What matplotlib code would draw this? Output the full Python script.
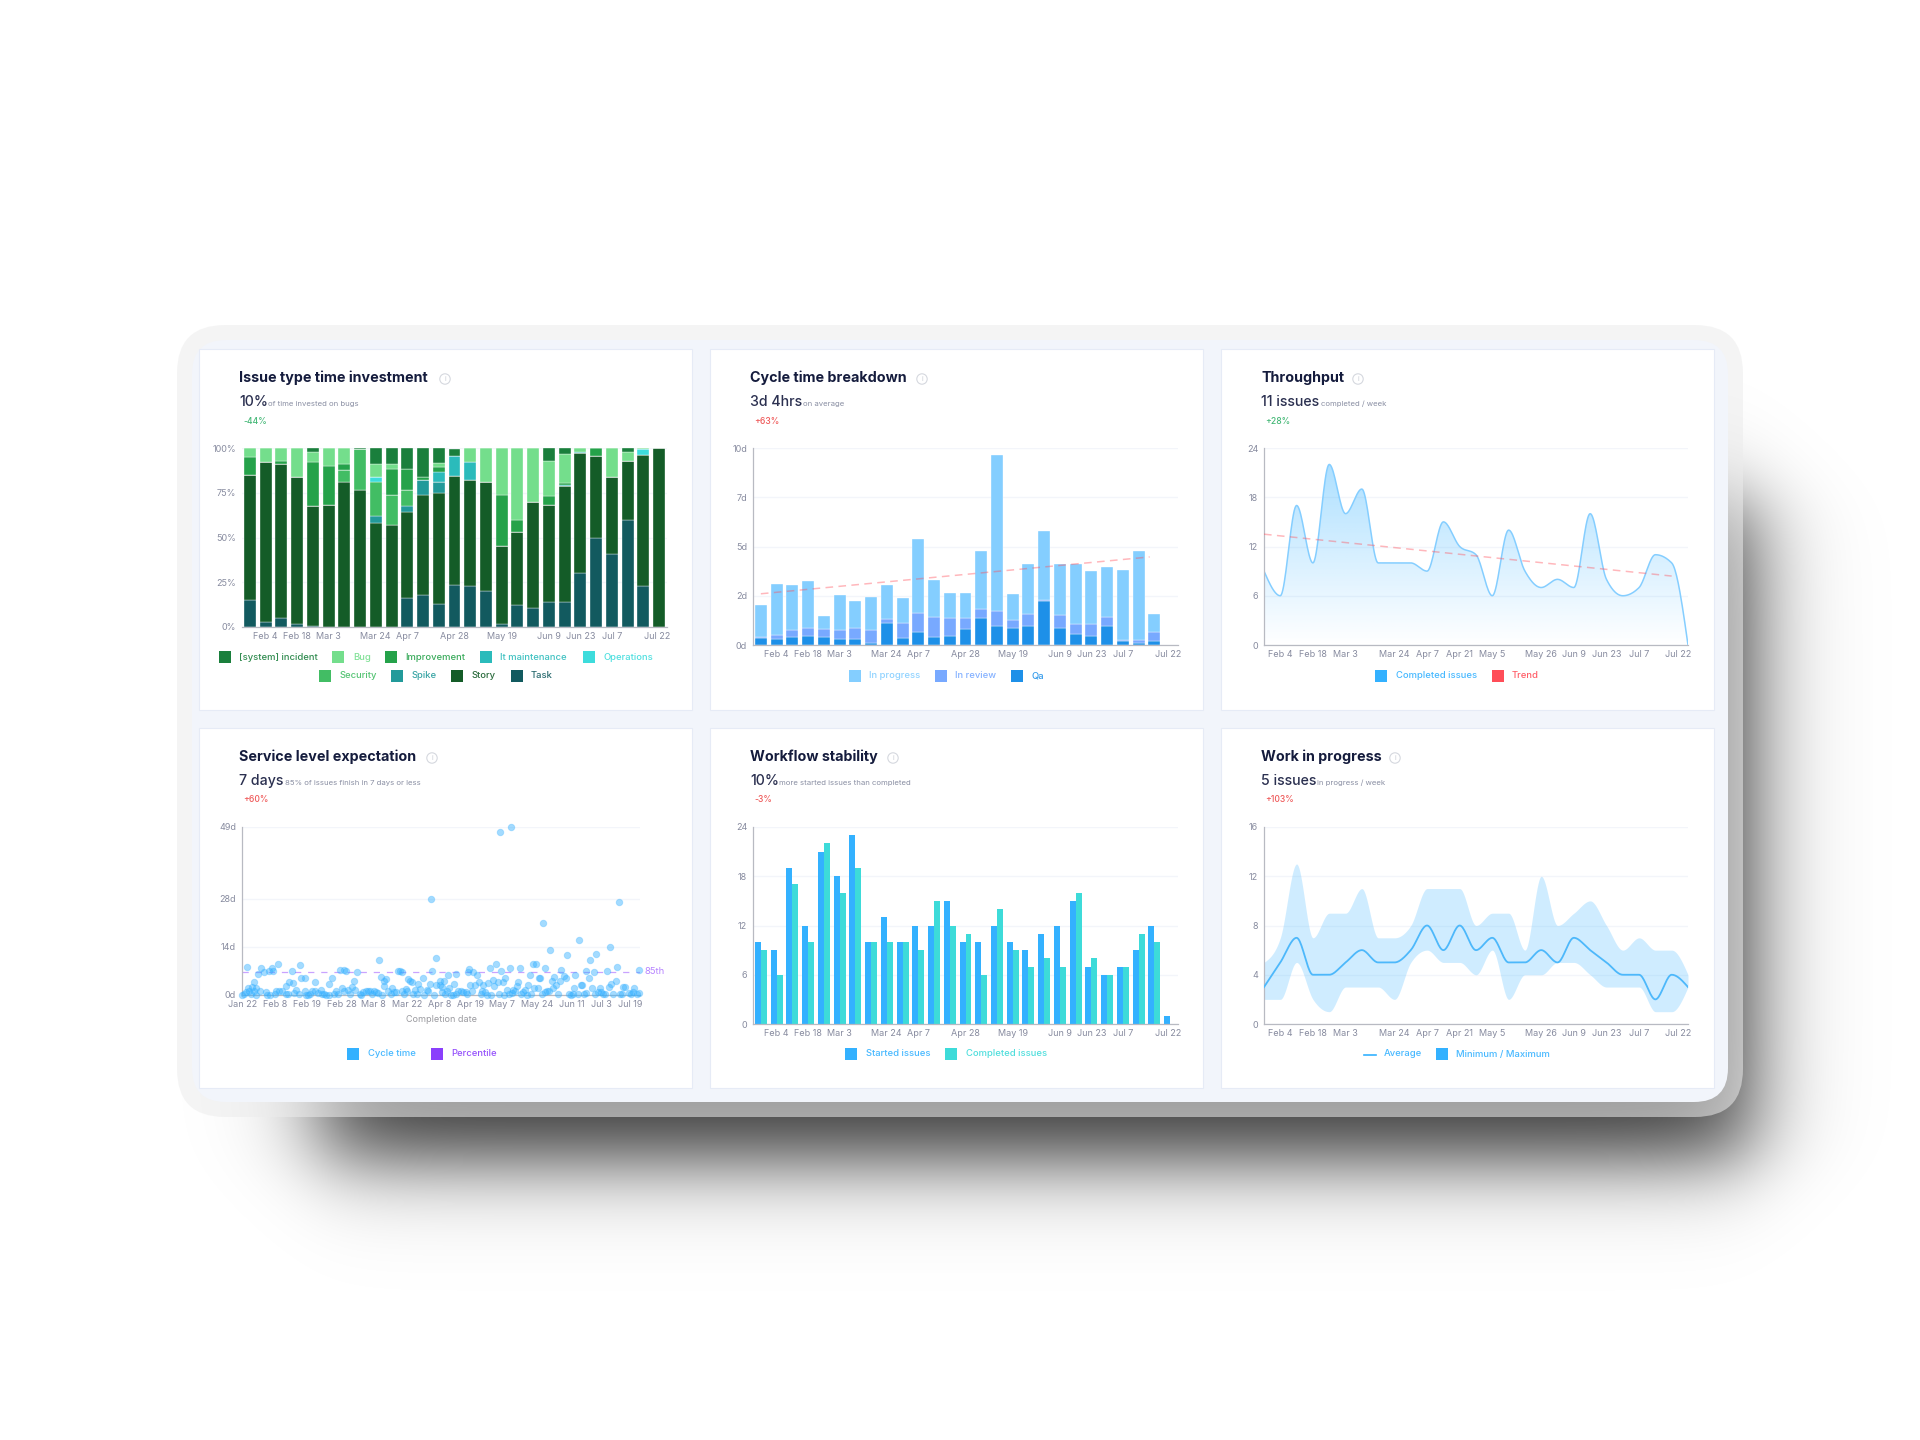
import matplotlib

matplotlib.use("Agg")
import matplotlib.pyplot as plt
import numpy as np
from matplotlib.patches import Circle, FancyBboxPatch, Rectangle

W, H = 1920, 1440

plt.rcParams["font.family"] = ["Inter", "DejaVu Sans"]

TICK_COLOR = "#878b9f"
TITLE_COLOR = "#151c3d"
VALUE_COLOR = "#2b3050"
SUB_COLOR = "#8a8fa3"
GREEN = "#45b877"
RED = "#ef5a5a"
GRID_COLOR = "#f3f5fa"
AXIS_COLOR = "#b8bac2"

WEEK_LABELS = ["Feb 4", "Feb 18", "Mar 3", "Mar 24", "Apr 7", "Apr 28", "May 19",
               "Jun 9", "Jun 23", "Jul 7", "Jul 22"]
WEEK_TICKS = [1, 3, 5, 8, 10, 13, 16, 19, 21, 23, 25.85]
POINT_LABELS = ["Feb 4", "Feb 18", "Mar 3", "Mar 24", "Apr 7", "Apr 21", "May 5",
                "May 26", "Jun 9", "Jun 23", "Jul 7", "Jul 22"]
POINT_TICKS = [1, 3, 5, 8, 10, 12, 14, 17, 19, 21, 23, 25.4]

# issue type time investment, percent per week
INV_NAMES = ["Task", "Story", "Spike", "Security", "Operations", "It maintenance",
             "Improvement", "Bug", "[system] incident"]
INV_COLORS = ["#125a5f", "#145c28", "#229a9a", "#42bd64", "#3ddcdc", "#2bbbbb",
              "#25a24a", "#74de8c", "#1a7f3c"]
inv_task = [15, 3, 5, 1.5, 0.5, 0, 0, 0, 0, 0, 16, 18, 13, 23.5, 23, 20, 1.5, 12.5, 10.5,
            14, 14, 30, 50, 41, 60, 23, 0]
inv_story = [70, 89, 86, 82.5, 67, 68, 81, 76.5, 58, 57, 48.5, 56, 62, 61, 59, 61, 43.5,
             40.5, 59.5, 54, 64.5, 67, 45.5, 43, 33, 73, 100]
inv_spike = [0, 0, 0, 0, 0, 0, 0, 0, 4, 0, 3, 8, 6, 0, 0, 0, 0, 0, 0, 0, 0, 0, 0, 0, 0, 0, 0]
inv_security = [0, 0, 0, 0, 0, 0, 6.5, 23, 19, 17, 9, 0, 0, 0, 0, 0, 0, 0, 0, 0, 0, 0, 0,
                0, 0, 0, 0]
inv_operations = [0, 0, 0, 0, 0, 0, 0, 0, 3, 0, 0, 0, 0, 0, 0, 0, 0, 0, 0, 0, 0, 0, 0, 0,
                  0, 3.5, 0]
inv_maintenance = [0, 0, 0, 0, 0, 0, 0, 0, 0, 0, 0, 0, 5.5, 11, 10, 0, 0, 0, 0, 0, 1, 1,
                   0, 0, 0, 0, 0]
inv_improvement = [10, 0, 2, 0, 24.5, 22, 3.5, 0, 0, 14, 12, 2, 3, 0, 0, 0, 29, 6.5, 0, 5,
                   1, 0, 4.5, 0, 0, 0, 0]
inv_bug = [5, 8, 7, 16, 5.5, 10, 9, 0, 7, 3, 0, 0, 2, 0, 8, 19, 26, 40.5, 30, 20, 16, 2,
           0, 16, 5, 0.5, 0]
inv_incident = [0, 0, 0, 0, 2.5, 0, 0, 0.5, 9, 9, 11.5, 16, 8.5, 4, 0, 0, 0, 0, 0, 7, 3.5,
                0, 0, 0, 2, 0, 0]
INV_SERIES = [inv_task, inv_story, inv_spike, inv_security, inv_operations,
              inv_maintenance, inv_improvement, inv_bug, inv_incident]

# cycle time breakdown, days per week
cycle_qa = [0.34, 0.29, 0.39, 0.44, 0.39, 0.30, 0.29, 0.12, 1.10, 0.34, 0.64, 0.39, 0.47,
            0.83, 1.39, 0.98, 0.86, 0.98, 2.23, 0.88, 0.58, 0.47, 0.98, 0.22, 0.10, 0.22]
cycle_review = [0.05, 0.24, 0.39, 0.41, 0.44, 0.47, 0.59, 0.63, 0.24, 0.80, 1.00, 1.02,
                0.91, 0.52, 0.46, 0.76, 0.42, 0.58, 0.07, 0.66, 0.51, 0.61, 0.44, 0.05,
                0.14, 0.42]
cycle_progress = [1.66, 2.57, 2.28, 2.42, 0.64, 1.76, 1.35, 1.71, 1.73, 1.27, 3.74, 1.91,
                  1.27, 1.30, 2.93, 7.92, 1.30, 2.55, 3.47, 2.59, 3.03, 2.67, 2.55, 3.55,
                  4.53, 0.93]
cycle_trend_x = [0, 24.7]
cycle_trend_y = [2.6, 4.47]

# throughput and workflow stability, issues per week
completed = [9, 6, 17, 10, 22, 16, 19, 10, 10, 10, 9, 15, 12, 11, 6, 14, 9, 7, 8, 7, 16, 8,
             6, 7, 11, 10, 0]
started = [10, 9, 19, 12, 21, 18, 23, 10, 13, 10, 12, 12, 15, 10, 10, 12, 10, 9, 11, 12,
           15, 7, 6, 7, 9, 12, 1]
throughput_trend_x = [0, 25]
throughput_trend_y = [13.5, 8.4]

# work in progress, issues per week
wip_avg = [3, 5, 7, 4, 4, 5, 6, 5, 5, 6, 8, 6, 8, 6, 7, 5, 5, 6, 5, 7, 6, 5, 4, 4, 2, 4, 3]
wip_max = [5, 7, 13, 7, 9, 9, 11, 7, 7, 8, 11, 11, 11, 8, 9, 9, 6, 12, 8, 9, 10, 8, 6, 7,
           6, 6, 4]
wip_min = [2, 2, 5, 2, 1, 3, 3, 3, 2, 5, 6, 5, 5, 4, 6, 2, 4, 4, 5, 5, 4, 3, 3, 3, 1, 1, 3]

# service level expectation: position on the completion axis, cycle time in days
SLE_LABELS = ["Jan 22", "Feb 8", "Feb 19", "Feb 28", "Mar 8", "Mar 22", "Apr 8", "Apr 19",
              "May 7", "May 24", "Jun 11", "Jul 3", "Jul 19"]
SLE_TICKS = [1, 98, 194, 299, 395, 495, 592, 685, 780, 885, 990, 1077, 1164]
SLE_SPAN = 1193
sle_pos = [15, 36, 47, 57, 65, 80, 90, 94, 107, 19, 31, 43, 149, 174, 140, 153, 133, 178,
           190, 219, 261, 271, 294, 307, 312, 345, 337, 412, 416, 433, 425, 427, 449, 468,
           473, 479, 499, 505, 511, 529, 542, 567, 571, 583, 563, 581, 593, 595, 605, 599,
           617, 635, 642, 621, 676, 681, 693, 705, 710, 683, 698, 723, 743, 760, 777, 773,
           806, 751, 738, 756, 768, 781, 789, 803, 832, 827, 823, 813, 864, 873, 881, 907,
           889, 893, 856, 903, 923, 928, 936, 941, 931, 957, 953, 965, 970, 974, 999, 1011,
           1015, 1020, 995, 1032, 1041, 1044, 1055, 1061, 1049, 1095, 1103, 1106, 1120,
           1125, 1129, 1100, 1143, 1148, 1191, 1176, 1073,
           1, 6, 13, 27, 41, 21, 37, 55, 72, 75, 83, 98, 101, 111, 121, 131, 139, 155, 163,
           170, 188, 193, 199, 205, 210, 218, 227, 236, 241, 247, 253, 260, 277, 281, 289,
           301, 305, 317, 324, 331, 338, 353, 357, 363, 371, 378, 384, 390, 395, 403, 409,
           421, 438, 446, 455, 463, 481, 487, 492, 496, 513, 519, 525, 535, 546, 555, 559,
           576, 600, 608, 615, 626, 633, 640, 648, 655, 663, 670, 675, 689, 716, 719, 729,
           733, 747, 769, 785, 795, 799, 809, 818, 835, 841, 848, 853, 865, 876, 887, 898,
           909, 915, 921, 947, 979, 985, 991, 1007, 1025, 1031, 1059, 1068, 1075, 1083,
           1087, 1113, 1133, 1139, 1159, 1165, 1173, 1183, 1189]
sle_days = [8.1, 3.9, 6.0, 7.9, 6.6, 6.9, 7.9, 7.0, 9.1, 2.1, 2.3, 1.9, 7.1, 8.7, 3.8, 3.6,
            2.5, 4.9, 4.9, 3.7, 3.2, 4.9, 7.3, 7.2, 7.0, 6.8, 4.2, 10.2, 5.2, 4.8, 4.1, 2.7,
            2.1, 7.1, 7.0, 6.6, 4.8, 4.1, 3.8, 3.2, 5.1, 28.1, 6.9, 10.7, 3.1, 2.9, 4.0, 2.8,
            4.0, 2.3, 5.9, 3.1, 6.0, 2.0, 6.7, 7.6, 6.7, 5.9, 3.7, 3.0, 2.8, 3.0, 7.8, 8.9,
            7.0, 47.6, 49.1, 4.4, 3.4, 2.7, 3.8, 3.9, 5.0, 8.0, 7.8, 3.8, 2.6, 1.5, 5.9, 9.1,
            8.9, 7.9, 4.9, 4.9, 2.8, 21.1, 13.0, 4.1, 5.2, 3.0, 2.1, 7.2, 4.1, 5.6, 5.0, 11.7,
            5.8, 16.0, 3.0, 3.0, 1.9, 7.1, 5.0, 10.1, 6.8, 12.0, 2.0, 6.9, 14.1, 3.1, 4.1,
            8.1, 27.0, 2.2, 2.4, 2.3, 7.2, 2.0, 2.1,
            0.0, 0.2, 0.9, 0.2, 0.1, 1.2, 1.1, 1.2, 1.0, 0.1, 0.0, 0.4, 1.2, 1.3, 1.2, 0.4,
            0.2, 0.7, 1.4, 0.4, 1.2, 0.1, 0.0, 0.3, 1.2, 1.2, 0.6, 1.5, 0.2, 0.2, 0.1, 0.0,
            0.2, 1.1, 0.2, 1.9, 1.2, 1.4, 0.2, 2.3, 1.4, 0.2, 0.0, 1.0, 1.3, 1.2, 1.3, 0.2,
            1.3, 1.0, 0.6, 0.0, 1.2, 0.4, 0.8, 0.9, 1.2, 0.2, 1.8, 1.2, 0.2, 1.4, 0.2, 1.8,
            0.1, 1.6, 1.1, 0.1, 0.9, 0.2, 1.2, 0.0, 0.1, 0.4, 1.2, 1.2, 1.0, 0.8, 0.2, 1.2,
            0.2, 1.2, 0.9, 0.0, 0.1, 0.2, 0.0, 1.4, 0.2, 0.6, 1.2, 0.2, 0.9, 1.4, 0.1, 0.2,
            1.9, 1.9, 0.4, 0.9, 1.2, 1.2, 0.2, 0.4, 0.0, 0.2, 0.4, 0.2, 0.6, 0.2, 1.0, 0.9,
            0.2, 0.4, 0.2, 0.2, 0.4, 0.6, 0.2, 0.9, 0.2, 0.7]
sle_percentile = 6.75


def monotone_curve(x, y, samples=20):
    """Monotone cubic through the weekly values, same shape as a d3 monotoneX line."""
    x = np.asarray(x, dtype=float)
    y = np.asarray(y, dtype=float)
    h = np.diff(x)
    s = np.diff(y) / h
    t = np.zeros(len(x))
    for i in range(1, len(x) - 1):
        p = (s[i - 1] * h[i] + s[i] * h[i - 1]) / (h[i - 1] + h[i])
        t[i] = (np.sign(s[i - 1]) + np.sign(s[i])) * min(abs(s[i - 1]), abs(s[i]), 0.5 * abs(p))
    t[0] = (3 * s[0] - t[1]) / 2
    t[-1] = (3 * s[-1] - t[-2]) / 2

    xs, ys = [], []
    for i in range(len(x) - 1):
        u = np.linspace(0, 1, samples, endpoint=False)
        xs.append(x[i] + u * h[i])
        ys.append((2 * u**3 - 3 * u**2 + 1) * y[i] + (u**3 - 2 * u**2 + u) * h[i] * t[i]
                  + (-2 * u**3 + 3 * u**2) * y[i + 1] + (u**3 - u**2) * h[i] * t[i + 1])
    xs.append(x[-1:])
    ys.append(y[-1:])
    return np.concatenate(xs), np.concatenate(ys)


def norm_cdf(v):
    # logistic stand-in for the gaussian edge, no scipy here
    return 1 / (1 + np.exp(-1.7 * v))


def draw_backdrop(bg):
    px, py = np.meshgrid(np.arange(W) + 0.5, np.arange(H) + 0.5)
    sx, sy = 45, 42
    alpha = (0.78 * norm_cdf((px - 320) / sx) * norm_cdf((1752 - px) / sx)
             * norm_cdf((py - 500) / sy) * norm_cdf((1160 - py) / sy))
    shadow = np.zeros((H, W, 4))
    shadow[..., 3] = alpha
    bg.imshow(shadow, extent=[0, W, H, 0], aspect="auto", zorder=0, interpolation="bilinear")

    ring = FancyBboxPatch((177, 325), 1566, 792, boxstyle="round,pad=0,rounding_size=48",
                          fc=(0.925, 0.925, 0.925, 0.55), ec="none", zorder=1)
    bg.add_patch(ring)
    panel = FancyBboxPatch((192, 340), 1536, 762, boxstyle="round,pad=0,rounding_size=34",
                           fc="#f2f5fb", ec="none", zorder=2)
    bg.add_patch(panel)


def draw_card(bg, left, top, title, value, sub, sub_x, delta, delta_color, info_x):
    width, height = 493, 361 if top < 500 else 360
    bg.add_patch(Rectangle((left, top), width, height, fc="white", ec="#e6ebf6", lw=0.8, zorder=3))
    text_x = left + 40
    bg.text(text_x, top + 29, title, fontsize=10.3, fontweight="bold", color=TITLE_COLOR,
            va="center", zorder=5)
    bg.text(text_x, top + 53, value, fontsize=10.2, fontweight="medium", color=VALUE_COLOR,
            va="center", zorder=5)
    bg.text(sub_x, top + 55, sub, fontsize=5.6, color=SUB_COLOR, va="center", zorder=5)
    bg.text(text_x + 4, top + 72, delta, fontsize=6.2, fontweight="medium", color=delta_color,
            va="center", zorder=5)
    bg.add_patch(Circle((info_x, top + 30), 5.2, fc="white", ec="#d5d8df", lw=0.8, zorder=5))
    bg.text(info_x, top + 30, "i", fontsize=5, color="#c8ccd4", ha="center", va="center", zorder=6)


def draw_legend(bg, y, swatches, labels, colors, line_first=False):
    for i, (sw, tx) in enumerate(zip(swatches, [s[1] for s in labels])):
        if line_first and i == 0:
            bg.plot([sw, sw + 12], [y + 1, y + 1], color=colors[i], lw=1.2, zorder=5)
        else:
            bg.add_patch(Rectangle((sw, y - 6), 12, 12, fc=colors[i], ec="none", zorder=5))
        bg.text(tx, y, labels[i][0], fontsize=6.8, color=colors[i], va="center", zorder=5,
                fontweight="medium", alpha=0.9)


def chart_axes(fig, left, top, right, bottom, yticks, ylabels, xticks, xlabels, show_left=True):
    ax = fig.add_axes([left / W, 1 - bottom / H, (right - left) / W, (bottom - top) / H])
    ax.patch.set_alpha(0)
    for name in ("top", "right"):
        ax.spines[name].set_visible(False)
    ax.spines["bottom"].set_color(AXIS_COLOR)
    ax.spines["bottom"].set_linewidth(0.9)
    ax.spines["left"].set_color(AXIS_COLOR)
    ax.spines["left"].set_linewidth(0.9)
    ax.spines["left"].set_visible(show_left)
    ax.set_yticks(yticks, ylabels)
    ax.set_xticks(xticks, xlabels)
    ax.tick_params(length=0, labelsize=6.5, labelcolor=TICK_COLOR)
    ax.tick_params(axis="x", pad=3.6)
    ax.tick_params(axis="y", pad=4.2)
    ax.grid(axis="y", color=GRID_COLOR, lw=1.0)
    ax.set_axisbelow(True)
    return ax


fig = plt.figure(figsize=(W / 100, H / 100), dpi=100, facecolor="white")
bg = fig.add_axes([0, 0, 1, 1], zorder=0)
bg.axis("off")
draw_backdrop(bg)
bg.set_xlim(0, W)
bg.set_ylim(H, 0)

draw_card(bg, 199, 349, "Issue type time investment", "10%", "of time invested on bugs", 268,
          "-44%", GREEN, 445)
draw_card(bg, 710, 349, "Cycle time breakdown", "3d 4hrs", "on average", 803, "+63%", RED, 922)
draw_card(bg, 1221, 349, "Throughput", "11 issues", "completed / week", 1321, "+28%", GREEN, 1358)
draw_card(bg, 199, 728, "Service level expectation", "7 days",
          "85% of issues finish in 7 days or less", 285, "+60%", RED, 432)
draw_card(bg, 710, 728, "Workflow stability", "10%", "more started issues than completed", 779,
          "-3%", RED, 893)
draw_card(bg, 1221, 728, "Work in progress", "5 issues", "in progress / week", 1317, "+103%", RED,
          1395)

# stacked investment bars
ax1 = chart_axes(fig, 242, 448, 667, 627, [0, 25, 50, 75, 100],
                 ["0%", "25%", "50%", "75%", "100%"], WEEK_TICKS, WEEK_LABELS, show_left=False)
weeks = np.arange(27)
base = np.zeros(27)
for values, color in zip(INV_SERIES, INV_COLORS):
    ax1.bar(weeks, values, bottom=base, width=0.76, color=color, edgecolor="white", linewidth=0.25)
    base += np.array(values)
ax1.set_xlim(-0.5, 26.5)
ax1.set_ylim(0, 100)

legend_names = dict(zip(INV_NAMES, INV_COLORS))
row_one = ["[system] incident", "Bug", "Improvement", "It maintenance", "Operations"]
row_two = ["Security", "Spike", "Story", "Task"]
draw_legend(bg, 657, [219, 332, 385, 480, 583],
            [(n, x) for n, x in zip(row_one, [239, 353, 405, 500, 603])],
            [legend_names[n] for n in row_one])
draw_legend(bg, 676, [319, 391, 451, 511],
            [(n, x) for n, x in zip(row_two, [339, 412, 472, 531])],
            [legend_names[n] for n in row_two])

# cycle time bars with trend
ax2 = chart_axes(fig, 753, 448, 1178, 645, [0, 2.5, 5, 7.5, 10],
                 ["0d", "2d", "5d", "7d", "10d"], WEEK_TICKS, WEEK_LABELS)
weeks = np.arange(26)
qa = np.array(cycle_qa)
review = np.array(cycle_review)
ax2.bar(weeks, qa, width=0.76, color="#1e90e8", edgecolor="white", linewidth=0.25)
ax2.bar(weeks, review, bottom=qa, width=0.76, color="#78a9ff", edgecolor="white", linewidth=0.25)
ax2.bar(weeks, cycle_progress, bottom=qa + review, width=0.76, color="#84ceff",
        edgecolor="white", linewidth=0.25)
ax2.plot(cycle_trend_x, cycle_trend_y, color="#ff4d58", alpha=0.4, lw=1.1, dashes=(5, 3.5))
ax2.set_xlim(-0.5, 26.5)
ax2.set_ylim(0, 10)
draw_legend(bg, 676, [849, 935, 1011], [("In progress", 869), ("In review", 955), ("Qa", 1031)],
            ["#84ceff", "#78a9ff", "#1e90e8"])

# throughput area with gradient fill
ax3 = chart_axes(fig, 1264, 448, 1688, 645, [0, 6, 12, 18, 24], ["0", "6", "12", "18", "24"],
                 POINT_TICKS, POINT_LABELS)
ax3.set_xlim(0, 26)
ax3.set_ylim(0, 24)
cx, cy = monotone_curve(np.arange(27), completed)
gradient = np.zeros((256, 2, 4))
gradient[..., :3] = matplotlib.colors.to_rgb("#33b1ff")
gradient[..., 3] = np.linspace(0.4, 0, 256)[:, None]
area = ax3.fill_between(cx, cy, 0, color="none")
img = ax3.imshow(gradient, extent=[0, 26, 0, max(completed)], aspect="auto", zorder=1,
                 interpolation="bilinear")
img.set_clip_path(area.get_paths()[0], ax3.transData)
ax3.plot(cx, cy, color="#85ceff", lw=1.1, zorder=2)
ax3.plot(throughput_trend_x, throughput_trend_y, color="#ff4d58", alpha=0.4, lw=1.1,
         dashes=(5, 3.5), zorder=3)
ax3.set_xlim(0, 26)
ax3.set_ylim(0, 24)
draw_legend(bg, 676, [1375, 1492], [("Completed issues", 1396), ("Trend", 1512)],
            ["#33b1ff", "#ff4d58"])

# cycle time scatter with percentile line
ax4 = chart_axes(fig, 242, 827, 640, 995, [0, 14, 28, 49], ["0d", "14d", "28d", "49d"],
                 SLE_TICKS, SLE_LABELS)
ax4.axhline(sle_percentile, color="#b784ff", alpha=0.75, lw=0.9, dashes=(5, 5.5), zorder=1)
ax4.scatter(sle_pos, sle_days, s=22, facecolor=(0.2, 0.69, 1.0, 0.45),
            edgecolor=(0.2, 0.69, 1.0, 0.3), linewidth=0.7, zorder=3, clip_on=False)
ax4.set_xlim(0, SLE_SPAN)
ax4.set_ylim(0, 49)
ax4.text(1205, sle_percentile, "85th", fontsize=6.8, color="#b784ff", va="center")
bg.text(441, 1020, "Completion date", fontsize=6.5, color="#9a9a9f", ha="center", va="center",
        zorder=5)
draw_legend(bg, 1054, [347, 431], [("Cycle time", 368), ("Percentile", 451)],
            ["#33b1ff", "#8a3ffc"])

# started vs completed
ax5 = chart_axes(fig, 753, 827, 1178, 1024, [0, 6, 12, 18, 24], ["0", "6", "12", "18", "24"],
                 WEEK_TICKS, WEEK_LABELS)
weeks = np.arange(27)
ax5.bar(weeks - 0.19, started, width=0.38, color="#33b1ff")
ax5.bar(weeks + 0.19, completed, width=0.38, color="#3ddbd9")
ax5.set_xlim(-0.5, 26.5)
ax5.set_ylim(0, 24)
draw_legend(bg, 1054, [845, 945], [("Started issues", 866), ("Completed issues", 966)],
            ["#33b1ff", "#3ddbd9"])

# work in progress band and average
ax6 = chart_axes(fig, 1264, 827, 1688, 1024, [0, 4, 8, 12, 16], ["0", "4", "8", "12", "16"],
                 POINT_TICKS, POINT_LABELS)
bx, by_max = monotone_curve(np.arange(27), wip_max)
_, by_min = monotone_curve(np.arange(27), wip_min)
ax6.fill_between(bx, by_min, by_max, color="#33b1ff", alpha=0.23, lw=0, zorder=2)
ax, ay = monotone_curve(np.arange(27), wip_avg)
ax6.plot(ax, ay, color="#4db8fb", lw=1.3, zorder=3)
ax6.set_xlim(0, 26)
ax6.set_ylim(0, 16)
draw_legend(bg, 1054, [1364, 1436], [("Average", 1384), ("Minimum / Maximum", 1456)],
            ["#33b1ff", "#33b1ff"], line_first=True)

fig.savefig("out.png", dpi=100, facecolor="white")
